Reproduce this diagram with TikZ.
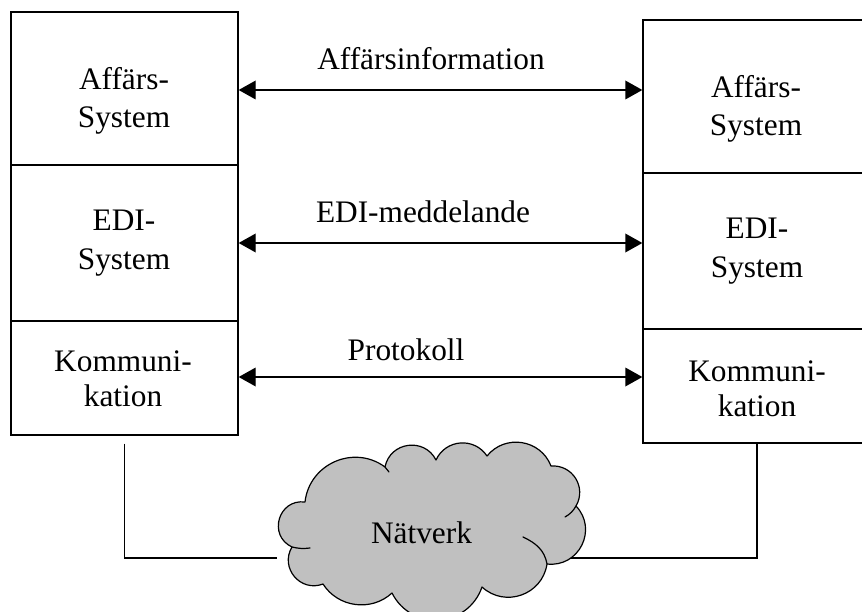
\documentclass[tikz,border=0pt]{standalone}
\usepackage{fontspec}
\setmainfont{Liberation Serif}
\usetikzlibrary{arrows.meta,calc}
\definecolor{cloudgray}{RGB}{192,192,192}
\begin{document}
\begin{tikzpicture}[x=0.75pt,y=0.75pt,
  layer/.style={draw, line width=1pt, inner sep=0pt, minimum width=170.25pt},
  caption/.style={font=\fontsize{23.5}{29}\selectfont, align=center, inner sep=0pt, anchor=north},
  lbl/.style={font=\fontsize{23.5}{29}\selectfont, inner sep=0pt, anchor=base},
  flow/.style={line width=1pt, {Triangle[length=12.75pt,width=14pt]}-{Triangle[length=12.75pt,width=14pt]}},
  wire/.style={line width=1pt},
  cloudline/.style={line width=0.9pt, line join=round, line cap=round}]
\clip (0,0) rectangle (862,611);

% protocol stack on the left
\node[layer, minimum height=114.75pt] (L1) at (124.5,522.5) {};
\node[layer, minimum height=117pt]    (L2) at (124.5,368) {};
\node[layer, minimum height=85.5pt]   (L3) at (124.5,233) {};
\node[caption] (tL1) at (124,544) {Affärs-\\System};
\node[caption] (tL2) at (124,401) {EDI-\\System};
\node[caption, font=\fontsize{23.5}{26.5}\selectfont] (tL3) at (123,261) {Kommuni-\\kation};

% protocol stack on the right
\node[layer, minimum width=171pt, minimum height=114.75pt] (R1) at (757,514.5) {};
\node[layer, minimum width=171pt, minimum height=117pt]    (R2) at (757,360) {};
\node[layer, minimum width=171pt, minimum height=85.5pt]   (R3) at (757,225) {};
\node[caption] (tR1) at (756,536) {Affärs-\\System};
\node[caption] (tR2) at (757,393) {EDI-\\System};
\node[caption, font=\fontsize{23.5}{26.5}\selectfont] (tR3) at (757,251) {Kommuni-\\kation};

% peer-to-peer exchanges between the layers
\coordinate (y1) at (0,521);
\coordinate (y2) at (0,368);
\coordinate (y3) at (0,234);
\draw[flow] (L1.east |- y1) -- (R1.west |- y1);
\draw[flow] (L2.east |- y2) -- (R2.west |- y2);
\draw[flow] (L3.east |- y3) -- (R3.west |- y3);
\node[lbl] (m1) at (431,541) {Affärsinformation};
\node[lbl] (m2) at (423,388) {EDI-meddelande};
\node[lbl] (m3) at (406,251) {Protokoll};

% links from the communication layers to the network
\coordinate (netW) at (277,53);
\coordinate (netE) at (567,53);
\draw[wire] ($(L3.south)+(0,-8)$) |- (netW);
\draw[wire] (R3.south) |- (netE);

% network cloud
\coordinate (c1)  at (305,109);
\coordinate (c2)  at (385,144);
\coordinate (c3)  at (436,151);
\coordinate (c4)  at (487,155);
\coordinate (c5)  at (551,145);
\coordinate (c6)  at (576,105);
\coordinate (c7)  at (547,47);
\coordinate (c8)  at (482,24);
\coordinate (c9)  at (392,18);
\coordinate (c10) at (323,27);
\coordinate (c11) at (292,64);
\path[cloudline, fill=cloudgray, draw=black]
  (c1) to[bend left=60, looseness=1.13] (c2)
       to[bend left=71, looseness=1.28] (c3)
       to[bend left=61, looseness=1.15] (c4)
       to[bend left=60, looseness=1.13] (c5)
       to[bend left=62, looseness=1.17] (c6)
       to[bend left=70, looseness=1.27] (c7)
       to[bend left=62, looseness=1.16] (c8)
       to[bend left=67, looseness=1.23] (c9)
       to[bend left=50, looseness=1.03] (c10)
       to[bend left=71, looseness=1.28] (c11)
       to[bend left=81, looseness=1.47] (c1) -- cycle;
% inner folds of the cloud
\draw[cloudline] (c2) -- ++(4,-5);
\draw[cloudline] (c6) to[bend left=15] (565,94);
\draw[cloudline] (c7) to[out=100,in=-25] (523,74);
\draw[cloudline] (c11) to[bend right=10] (310,63);
\node[lbl] (net) at (421.5,68) {Nätverk};
\end{tikzpicture}
\end{document}
